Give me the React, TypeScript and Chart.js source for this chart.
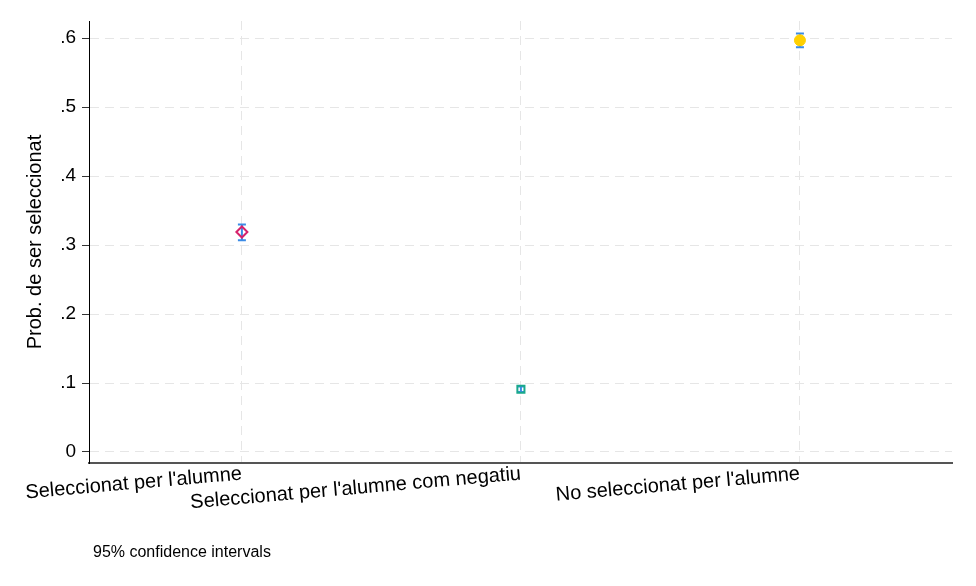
import React, { useEffect, useRef } from "react";
import { Chart, registerables } from "chart.js";

Chart.register(...registerables);

const categories = [
  "Seleccionat per l'alumne",
  "Seleccionat per l'alumne com negatiu",
  "No seleccionat per l'alumne",
];
const estimates = [0.319, 0.091, 0.597];
const ciLower = [0.307, 0.087, 0.587];
const ciUpper = [0.33, 0.095, 0.607];
const yTicks = [0, 0.1, 0.2, 0.3, 0.4, 0.5, 0.6];
const yTitle = "Prob. de ser seleccionat";
const footnote = "95% confidence intervals";

const FONT = "'Liberation Sans', Arial, sans-serif";

const ciPlugin = {
  id: "ciPlugin",
  beforeDatasetsDraw(chart: any) {
    const { ctx, scales } = chart;
    const xs = scales.x;
    const ys = scales.y;
    ctx.save();
    ctx.strokeStyle = "#3b8be6";
    ctx.lineWidth = 2;
    categories.forEach((_, i) => {
      const x = xs.getPixelForValue(i + 1);
      const y1 = ys.getPixelForValue(ciLower[i]);
      const y2 = ys.getPixelForValue(ciUpper[i]);
      ctx.beginPath();
      ctx.moveTo(x, y1);
      ctx.lineTo(x, y2);
      ctx.moveTo(x - 4, y1);
      ctx.lineTo(x + 4, y1);
      ctx.moveTo(x - 4, y2);
      ctx.lineTo(x + 4, y2);
      ctx.stroke();
    });
    ctx.restore();
  },
};

export default function App() {
  const ref = useRef<HTMLCanvasElement>(null);
  useEffect(() => {
    document.body.style.margin = "0";
    if (!ref.current) return;
    const chart = new Chart(ref.current, {
      type: "scatter",
      data: {
        datasets: [
          {
            data: estimates.map((v, i) => ({ x: i + 1, y: v })),
            pointStyle: ["rectRot", "rect", "circle"] as any,
            pointRadius: [5.5, 5, 5.5],
            pointBorderWidth: [2, 2, 1],
            pointBorderColor: ["#d6226b", "#1aa98c", "#ffd000"],
            pointBackgroundColor: ["rgba(255,255,255,0)", "rgba(255,255,255,0)", "#ffd000"],
          },
        ],
      },
      options: {
        animation: false,
        responsive: false,
        events: [],
        layout: { padding: { top: 21, right: 24, left: 0, bottom: 0 } },
        plugins: { legend: { display: false }, tooltip: { enabled: false } },
        scales: {
          x: {
            type: "linear",
            min: 0.452,
            max: 3.545,
            afterBuildTicks: (s: any) => {
              s.ticks = categories.map((_, i) => ({ value: i + 1 }));
            },
            afterFit: (s: any) => {
              s.height = 123;
            },
            ticks: {
              callback: (v: any) => categories[Math.round(v) - 1] ?? "",
              minRotation: 5,
              maxRotation: 5,
              autoSkip: false,
              font: { family: FONT, size: 20 },
              color: "#000",
              padding: -1,
            },
            grid: { color: "#e6e6e6", lineWidth: 1, drawTicks: false },
            border: { display: true, color: "#555", width: 2, dash: [9, 6] },
          },
          y: {
            min: -0.016,
            max: 0.625,
            afterBuildTicks: (s: any) => {
              s.ticks = yTicks.map((v) => ({ value: v }));
            },
            afterFit: (s: any) => {
              s.width = 89;
            },
            ticks: {
              callback: (v: any) => (v === 0 ? "0" : Number(v).toFixed(1).replace(/^0/, "")),
              font: { family: FONT, size: 19 },
              color: "#000",
              padding: 6,
            },
            grid: {
              color: "#e6e6e6",
              lineWidth: 1,
              tickLength: 7,
              tickColor: "#333",
              tickWidth: 1,
              tickBorderDash: [],
            },
            border: { display: true, color: "#000", width: 1, dash: [9, 6] },
            title: {
              display: true,
              text: yTitle,
              font: { family: FONT, size: 20 },
              color: "#000",
              padding: { top: 23, bottom: 0 },
            },
          },
        },
      },
      plugins: [ciPlugin],
    });
    return () => chart.destroy();
  }, []);
  return (
    <div style={{ position: "relative", width: 976, height: 586, background: "#fff" }}>
      <canvas ref={ref} width={976} height={586} style={{ display: "block" }} />
      <div
        style={{
          position: "absolute",
          left: 93,
          top: 543,
          fontFamily: FONT,
          fontSize: 16,
          color: "#000",
          whiteSpace: "nowrap",
        }}
      >
        {footnote}
      </div>
    </div>
  );
}
